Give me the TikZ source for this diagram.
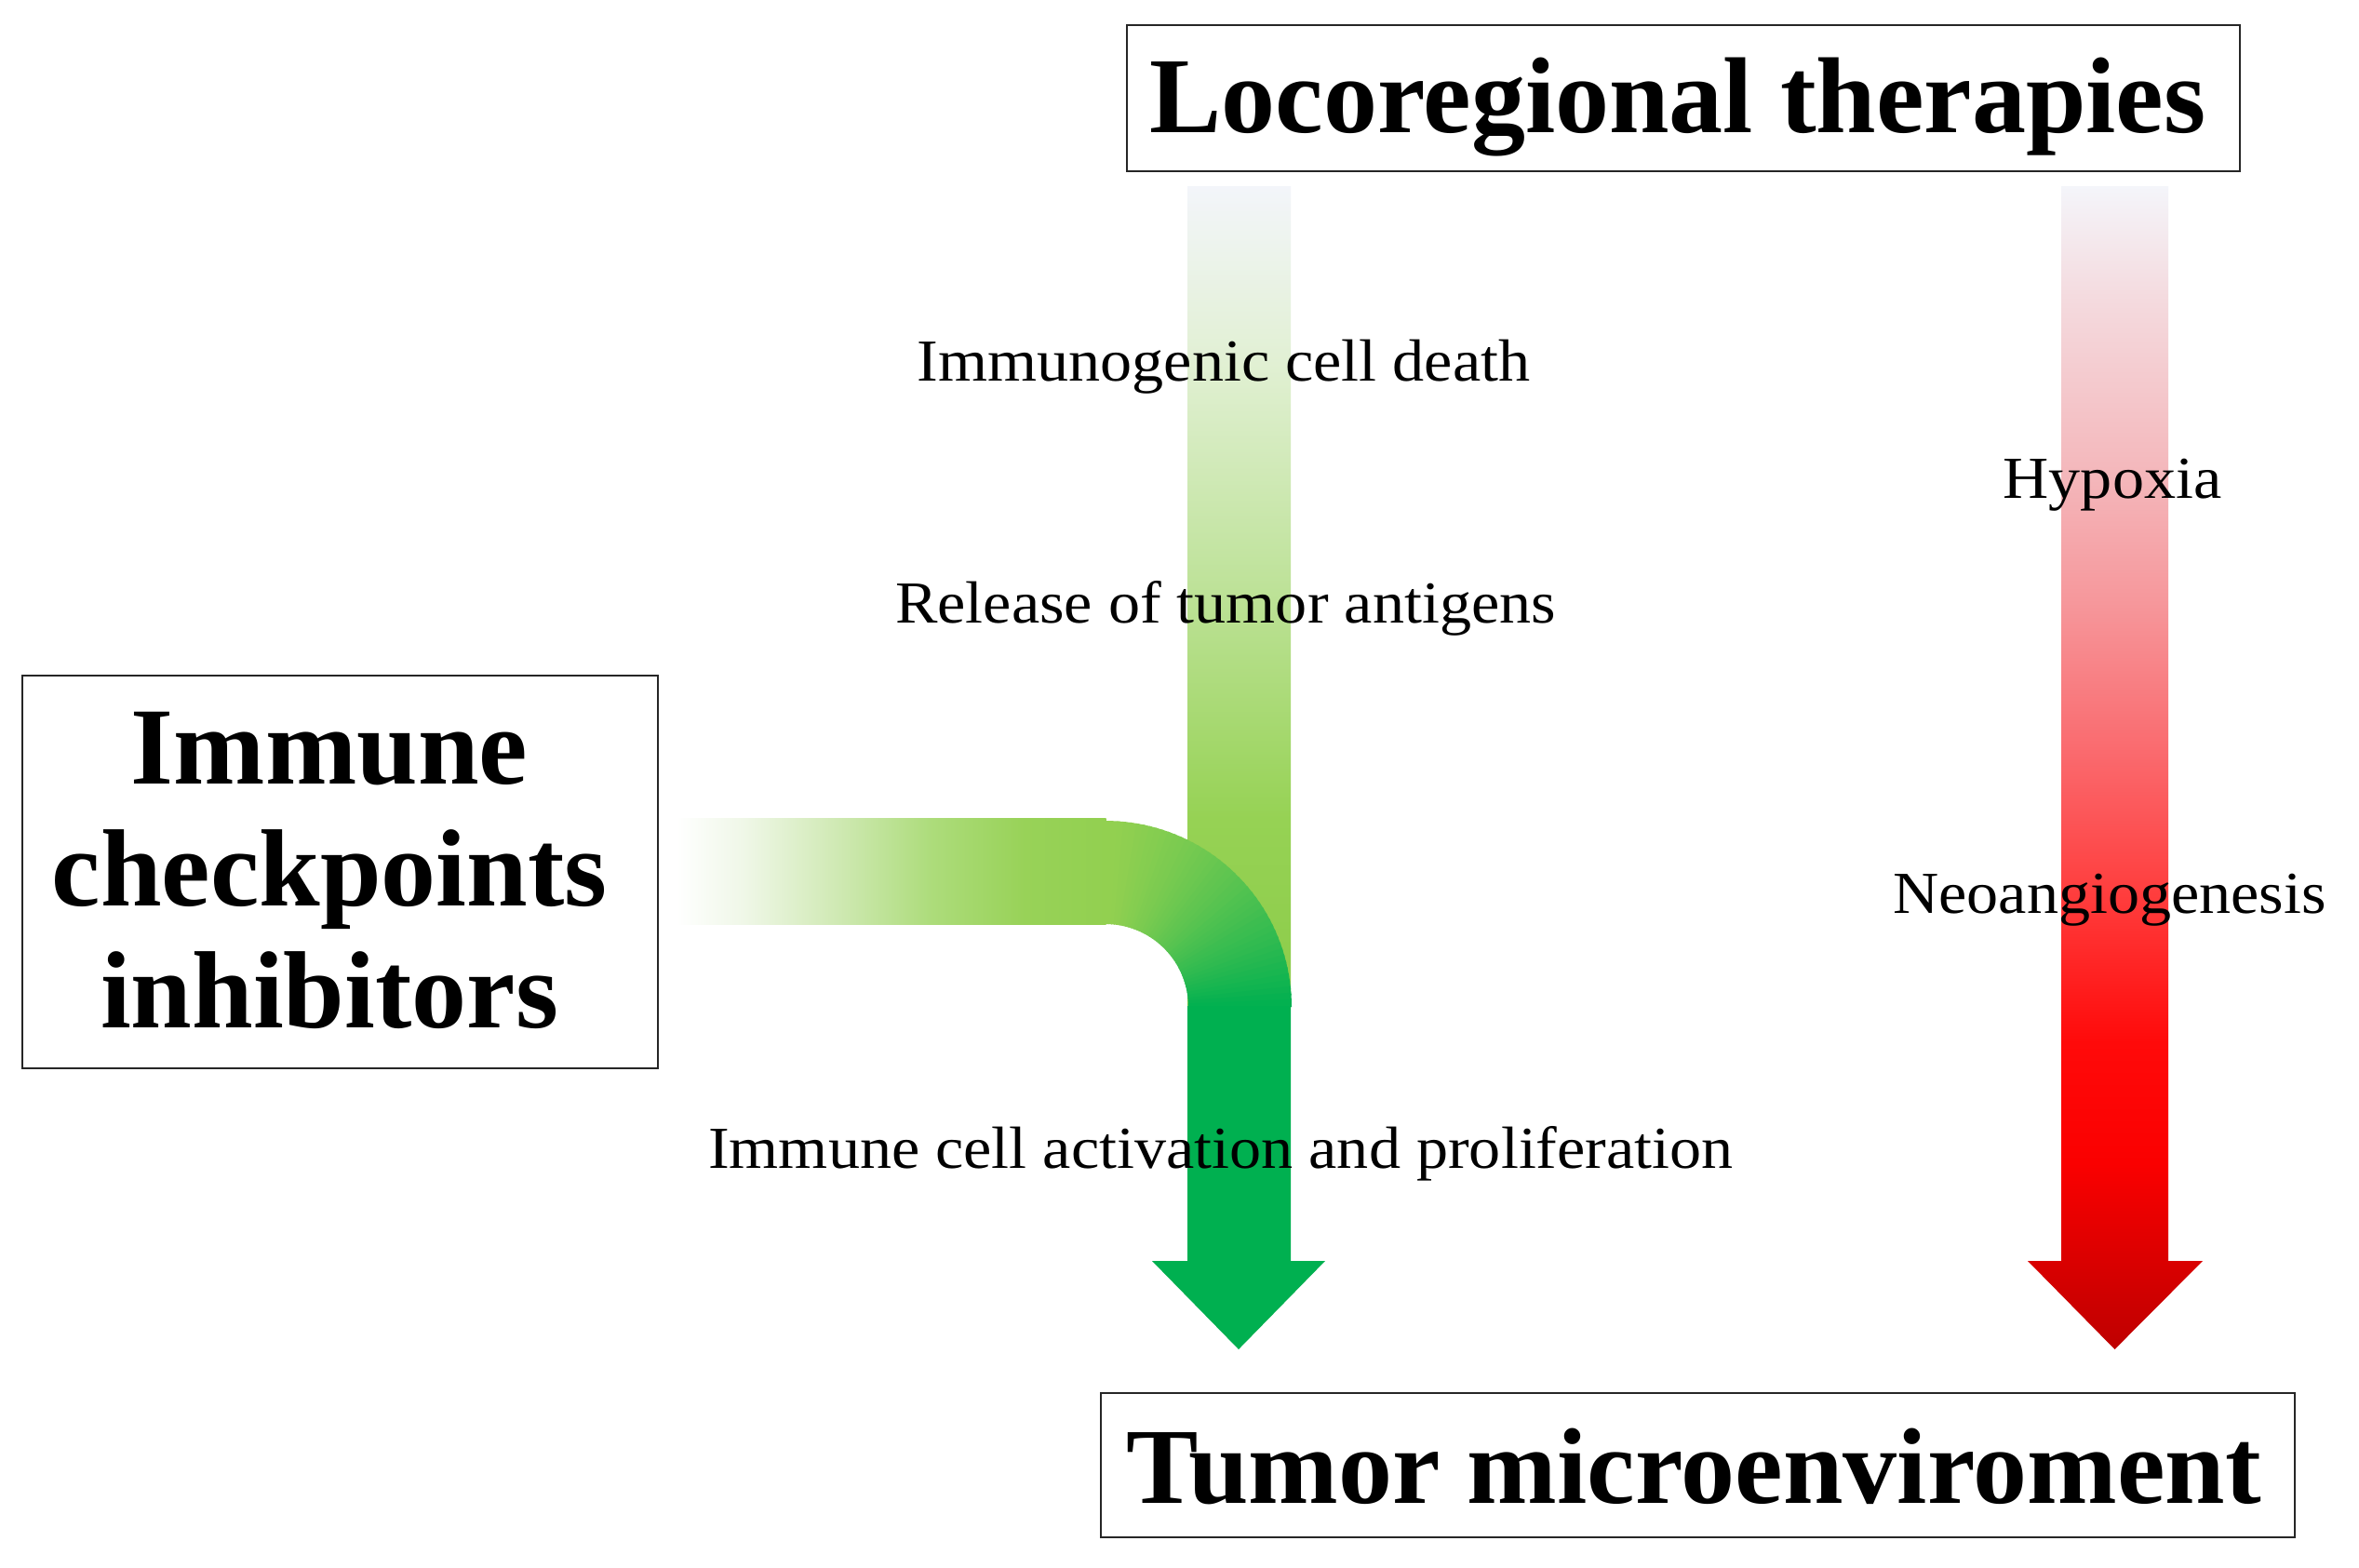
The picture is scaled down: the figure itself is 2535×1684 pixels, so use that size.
\documentclass[tikz,border=0pt]{standalone}
\usepackage{fontspec}
\setmainfont{Liberation Serif}
\newfontfamily\lblfont{Liberation Serif}[FakeStretch=1.065]
\definecolor{rA}{HTML}{BE0000}
\definecolor{rB}{HTML}{DA0000}
\definecolor{rC}{HTML}{FA0000}
\definecolor{rD}{HTML}{FF0A0A}
\definecolor{rE}{HTML}{FF3C3C}
\definecolor{rF}{HTML}{FA6A6E}
\definecolor{rG}{HTML}{F6979B}
\definecolor{rH}{HTML}{F4B6BA}
\definecolor{rI}{HTML}{F4DADE}
\definecolor{rJ}{HTML}{F4F5FA}
\definecolor{gA}{HTML}{8CCC4A}
\definecolor{gB}{HTML}{96D254}
\definecolor{gC}{HTML}{BBE194}
\definecolor{gD}{HTML}{E1F0D3}
\definecolor{gE}{HTML}{F3F5FA}
\definecolor{bA}{HTML}{FFFFFF}
\definecolor{bB}{HTML}{EFF7E7}
\definecolor{bC}{HTML}{CFE9B3}
\definecolor{bD}{HTML}{ADDC7B}
\definecolor{bE}{HTML}{98D258}
\definecolor{glight}{HTML}{92D050}
\definecolor{gdark}{HTML}{00B050}
\pgfdeclareverticalshading{redgrad}{100bp}{color(0bp)=(rA); color(25bp)=(rA); color(28.8bp)=(rB); color(33bp)=(rC); color(38.2bp)=(rD); color(44.4bp)=(rE); color(50.7bp)=(rF); color(57.1bp)=(rG); color(62.4bp)=(rH); color(70.1bp)=(rI); color(75bp)=(rJ); color(100bp)=(rJ)}
\pgfdeclareverticalshading{greengrad}{100bp}{color(0bp)=(gA); color(25bp)=(gA); color(36.5bp)=(gB); color(49.5bp)=(gC); color(64.2bp)=(gD); color(75bp)=(gE); color(100bp)=(gE)}
\pgfdeclarehorizontalshading{bandgrad}{100bp}{color(0bp)=(bA); color(25bp)=(bA); color(32.9bp)=(bB); color(43.8bp)=(bC); color(54.6bp)=(bD); color(65.5bp)=(bE); color(75bp)=(glight); color(100bp)=(glight)}
\tikzset{
  box/.style={draw=black!85, line width=0.7pt, fill=white, inner sep=0pt},
  heading/.style={inner sep=0pt, anchor=base, font=\fontsize{29pt}{34pt}\selectfont\bfseries},
  lbl/.style={inner sep=0pt, anchor=base, font=\lblfont\fontsize{16pt}{19pt}\selectfont},
}
\begin{document}
\begin{tikzpicture}[x=0.25pt, y=-0.25pt]
\useasboundingbox (0,0) rectangle (2535,1684);
\fill[white] (0,0) rectangle (2535,1684);
% boxes
\node[box, minimum width=299pt, minimum height=39.25pt] (locobox) at (1809,105.5) {};
\node[box, minimum width=170.75pt, minimum height=105.5pt] (icibox) at (365.5,937) {};
\node[box, minimum width=320.75pt, minimum height=38.75pt] (tmebox) at (1824.5,1574.5) {};
\node[heading] (locotext) at (1803,142) {Locoregional therapies};
\node[heading] (tmetext) at (1820,1615) {Tumor microenviroment};
\node[heading, anchor=base, align=center, font=\fontsize{29.5pt}{32.75pt}\selectfont\bfseries] (icitext) at (354,1104) {Immune\\checkpoints\\inhibitors};
% red arrow
\shade[shading=redgrad] (2215,200) -- (2330,200) -- (2330,1355) -- (2367,1355) -- (2272.5,1450) -- (2179,1355) -- (2215,1355) -- cycle;
% green arrow: upper shaft
\shade[shading=greengrad] (1276,200) rectangle (1387,1082);
% horizontal band
\shade[shading=bandgrad] (727,879) rectangle (1188.5,993);
% elbow (conic gradient)
\foreach \i in {0,...,44}{
  \pgfmathsetmacro\aa{min(90,90-2*\i+0.4)}
  \pgfmathsetmacro\bb{max(0,90-2*(\i+1)-0.4)}
  \pgfmathtruncatemacro\pct{100*((\i+0.5)/45)^1.4}
  \fill[gdark!\pct!glight] ({1188+200*cos(\aa)},{1082-200*sin(\aa)}) -- ({1188+200*cos(\bb)},{1082-200*sin(\bb)}) -- ({1188+89*cos(\bb)},{1082-89*sin(\bb)}) -- ({1188+89*cos(\aa)},{1082-89*sin(\aa)}) -- cycle;
}
% lower solid part and head
\fill[gdark] (1276,1081) -- (1387,1081) -- (1387,1355) -- (1424,1355) -- (1331,1450) -- (1238,1355) -- (1276,1355) -- cycle;
% labels
\node[lbl] (icd) at (1315,409) {Immunogenic cell death};
\node[lbl] (rta) at (1317,669) {Release of tumor antigens};
\node[lbl] (ica) at (1312,1255) {Immune cell activation and proliferation};
\node[lbl] (hyp) at (2270,535) {Hypoxia};
\node[lbl] (neo) at (2267,981) {Neoangiogenesis};
\end{tikzpicture}
\end{document}
